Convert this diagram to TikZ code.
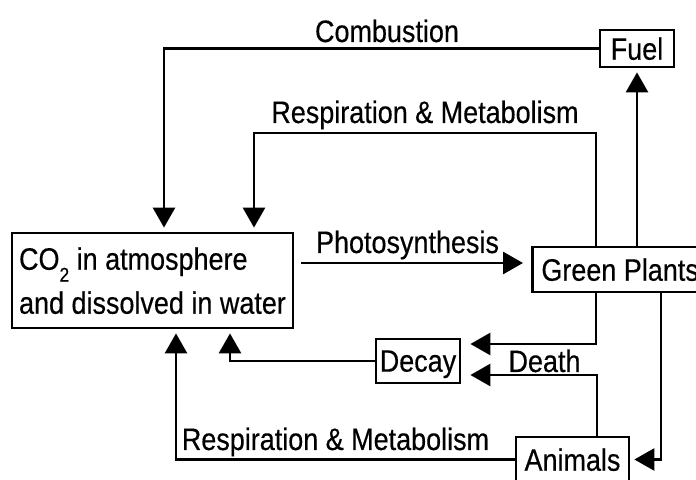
\documentclass[tikz,border=0pt]{standalone}
\usepackage{fontspec}
\setmainfont{Liberation Sans}[FakeStretch=0.87,FakeBold=0.4]
\usetikzlibrary{arrows.meta}

\begin{document}
\begin{tikzpicture}[x=0.5pt,y=-0.5pt,line width=1.4pt,
  >={Triangle[length=10pt,width=11pt]},
  every node/.style={font=\fontsize{15.5}{22}\selectfont},
  box/.style={draw,inner sep=0pt,text depth=0pt},
  flow/.style={->,shorten >=2pt},
  lbl/.style={anchor=base,inner sep=0pt}]
\useasboundingbox (0,0) rectangle (696,480);
\clip (0,0) rectangle (696,480);
\node[box,minimum width=140.5pt,minimum height=47.5pt,align=left] (co2) at (152.5,280.5)
  {CO\raisebox{-6pt}{\fontsize{10}{10}\selectfont 2} in atmosphere\\and dissolved in water};
\node[box,minimum width=37pt,minimum height=18.5pt] (fuel) at (637,48.5) {Fuel};
\node[box,anchor=west,inner xsep=4.5pt,minimum height=22.5pt] (plants) at (531,269.5) {Green Plants};
\node[box,minimum width=42pt,minimum height=22pt] (decay) at (418,361) {Decay};
\node[box,minimum width=56.5pt,minimum height=22.5pt] (animals) at (572.5,459.5) {Animals};
\node[lbl] (combust) at (387,42) {Combustion};
\node[lbl] (respup) at (425,123) {Respiration \& Metabolism};
\node[lbl] (photo) at (407.5,253) {Photosynthesis};
\node[lbl] (death) at (544.5,372) {Death};
\node[lbl] (resplow) at (335.5,450) {Respiration \& Metabolism};
\draw[flow] (fuel.west) -| (co2.north -| 164,0);
\draw[flow] (plants.north -| 596,0) -- (596,133) -| (co2.north -| 254,0);
\draw[flow] (plants.north -| fuel.south) -- (fuel.south);
\draw[flow,shorten <=3.5pt,shorten >=4pt] (co2.east |- 0,263) -- (plants.west |- 0,263);
\draw[flow,shorten >=4.5pt] (plants.south -| 596,0) |- (decay.east |- 0,344);
\draw[flow,shorten >=4.5pt] (animals.north -| 597,0) |- (decay.east |- 0,375);
\draw[flow] (decay.west) -| (co2.south -| 230,0);
\draw[flow] (animals.west) -| (co2.south -| 176,0);
\draw[flow] (plants.south -| 661,0) |- (animals.east);
\end{tikzpicture}
\end{document}
